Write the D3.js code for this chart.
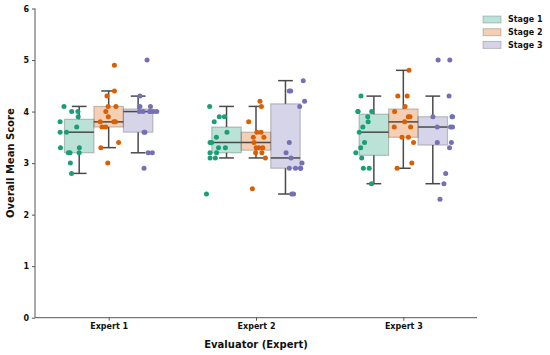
<!DOCTYPE html>
<html>
<head>
<meta charset="utf-8">
<script src="https://cdn.jsdelivr.net/npm/d3@7"></script>
<style>
  body { margin: 0; background: #fff; }
  text { font-family: "DejaVu Sans", sans-serif; font-weight: bold; fill: #111; }
</style>
</head>
<body>
<svg id="chart" width="550" height="355"></svg>
<script>
// data
var experts = ["Expert 1", "Expert 2", "Expert 3"];
var stages = ["Stage 1", "Stage 2", "Stage 3"];
var colors = ["#1b9e77", "#d95f02", "#7570b3"];
var yTicks = [0, 1, 2, 3, 4, 5, 6];

var expert1 = [
  [4.1, 4.0, 4.0, 3.9, 3.8, 3.7, 3.6, 3.6, 3.3, 3.3, 3.2, 3.2, 3.2, 3.0, 2.8],
  [4.9, 4.4, 4.3, 4.1, 4.1, 4.0, 3.9, 3.8, 3.8, 3.8, 3.7, 3.7, 3.4, 3.3, 3.0],
  [5.0, 4.3, 4.1, 4.1, 4.0, 4.0, 4.0, 4.0, 4.0, 4.0, 3.6, 3.6, 3.2, 3.2, 2.9]
];
var expert2 = [
  [4.1, 3.9, 3.9, 3.8, 3.6, 3.5, 3.4, 3.4, 3.3, 3.3, 3.2, 3.2, 3.1, 3.1, 2.4],
  [4.2, 4.1, 3.8, 3.6, 3.6, 3.5, 3.5, 3.4, 3.3, 3.3, 3.3, 3.2, 3.2, 3.1, 2.5],
  [4.6, 4.4, 4.4, 4.2, 4.1, 3.4, 3.2, 3.1, 3.0, 2.9, 2.9, 2.9, 2.9, 2.4, 2.4]
];
var expert3 = [
  [4.3, 4.0, 4.0, 4.0, 3.9, 3.8, 3.7, 3.6, 3.4, 3.3, 3.2, 3.1, 2.9, 2.9, 2.6],
  [4.8, 4.3, 4.3, 4.1, 4.0, 3.9, 3.9, 3.8, 3.7, 3.7, 3.5, 3.5, 3.4, 3.0, 2.9],
  [5.0, 5.0, 4.3, 3.9, 3.9, 3.9, 3.7, 3.7, 3.7, 3.4, 3.4, 3.3, 2.8, 2.6, 2.3]
];
var scores = [expert1, expert2, expert3];

var svg = d3.select("#chart");
var plotLeft = 35, plotRight = 477, plotTop = 8.5, plotBottom = 317.7;

var x = d3.scalePoint().domain(experts).range([plotLeft, plotRight]).padding(0.5);
var step = x.step();
var y = d3.scaleLinear().domain([0, 6]).range([plotBottom, plotTop]);

// box offsets and strip (dodged) offsets
var boxOff = d3.scaleBand().domain(stages).range([-0.3 * step, 0.3 * step]);
var stripOff = d3.scaleBand().domain(stages).range([-0.4 * step, 0.4 * step]);
var color = d3.scaleOrdinal().domain(stages).range(colors);

function boxStats(vals) {
  var s = vals.slice().sort(d3.ascending);
  var q1 = d3.quantile(s, 0.25), med = d3.quantile(s, 0.5), q3 = d3.quantile(s, 0.75);
  var iqr = q3 - q1;
  var lo = d3.min(s.filter(v => v >= q1 - 1.5 * iqr));
  var hi = d3.max(s.filter(v => v <= q3 + 1.5 * iqr));
  return { q1: q1, med: med, q3: q3, lo: lo, hi: hi };
}

var boxes = [], points = [];
experts.forEach((e, i) => {
  stages.forEach((s, j) => {
    boxes.push({ expert: e, stage: s, stats: boxStats(scores[i][j]) });
    scores[i][j].forEach(v => points.push({ expert: e, stage: s, value: v }));
  });
});

var bw = boxOff.bandwidth();
var grey = "#4a4a4a";

var gBox = svg.append("g");
boxes.forEach(b => {
  var cx = x(b.expert) + boxOff(b.stage) + bw / 2;
  var st = b.stats;
  var g = gBox.append("g");
  // whiskers
  g.append("line").attr("x1", cx).attr("x2", cx).attr("y1", y(st.q3)).attr("y2", y(st.hi))
    .attr("stroke", grey).attr("stroke-width", 1.5);
  g.append("line").attr("x1", cx).attr("x2", cx).attr("y1", y(st.q1)).attr("y2", y(st.lo))
    .attr("stroke", grey).attr("stroke-width", 1.5);
  g.append("line").attr("x1", cx - bw / 4).attr("x2", cx + bw / 4).attr("y1", y(st.hi)).attr("y2", y(st.hi))
    .attr("stroke", grey).attr("stroke-width", 1.5);
  g.append("line").attr("x1", cx - bw / 4).attr("x2", cx + bw / 4).attr("y1", y(st.lo)).attr("y2", y(st.lo))
    .attr("stroke", grey).attr("stroke-width", 1.5);
  // box
  g.append("rect")
    .attr("x", cx - bw / 2).attr("width", bw)
    .attr("y", y(st.q3)).attr("height", y(st.q1) - y(st.q3))
    .attr("fill", color(b.stage)).attr("fill-opacity", 0.3)
    .attr("stroke", grey).attr("stroke-opacity", 0.3).attr("stroke-width", 1.2);
  g.append("line").attr("x1", cx - bw / 2).attr("x2", cx + bw / 2).attr("y1", y(st.med)).attr("y2", y(st.med))
    .attr("stroke", grey).attr("stroke-width", 1.5);
});

// deterministic jitter
var rand = d3.randomLcg(7);
var jit = 0.07 * step;
svg.append("g").selectAll("circle")
  .data(points)
  .enter()
  .append("circle")
  .attr("cx", d => x(d.expert) + stripOff(d.stage) + stripOff.bandwidth() / 2 + (rand() * 2 - 1) * jit)
  .attr("cy", d => y(d.value))
  .attr("r", 2.5)
  .attr("fill", d => color(d.stage));

// axes
var yAxis = svg.append("g")
  .attr("transform", "translate(" + plotLeft + ",0)")
  .call(d3.axisLeft(y).tickValues(yTicks).tickFormat(d3.format("d")).tickSize(3).tickPadding(3));
var xAxis = svg.append("g")
  .attr("transform", "translate(0," + plotBottom + ")")
  .call(d3.axisBottom(x).tickSize(3).tickPadding(3));
xAxis.select(".domain").attr("d", "M" + plotLeft + ",0H" + plotRight);
yAxis.select(".domain").attr("d", "M0," + plotTop + "V" + plotBottom);
[xAxis, yAxis].forEach(a => {
  a.select(".domain").attr("stroke", "#555").attr("stroke-width", 1);
  a.selectAll(".tick line").attr("stroke", "#555");
  a.selectAll("text").style("font-size", "8px").attr("fill", "#111");
});

svg.append("text")
  .attr("x", (plotLeft + plotRight) / 2)
  .attr("y", 348)
  .style("text-anchor", "middle")
  .style("font-size", "10px")
  .text("Evaluator (Expert)");

svg.append("text")
  .attr("transform", "rotate(-90)")
  .attr("x", -(plotTop + plotBottom) / 2)
  .attr("y", 14)
  .style("text-anchor", "middle")
  .style("font-size", "10px")
  .text("Overall Mean Score");

// legend
var legend = svg.append("g").attr("transform", "translate(483,16)");
stages.forEach((s, i) => {
  var row = legend.append("g").attr("transform", "translate(0," + (i * 12.7) + ")");
  row.append("rect").attr("width", 18).attr("height", 7)
    .attr("fill", color(s)).attr("fill-opacity", 0.3)
    .attr("stroke", grey).attr("stroke-opacity", 0.3);
  row.append("text").attr("x", 25).attr("y", 3.5).attr("dy", "0.35em")
    .style("font-size", "8px").text(s);
});
</script>
</body>
</html>
